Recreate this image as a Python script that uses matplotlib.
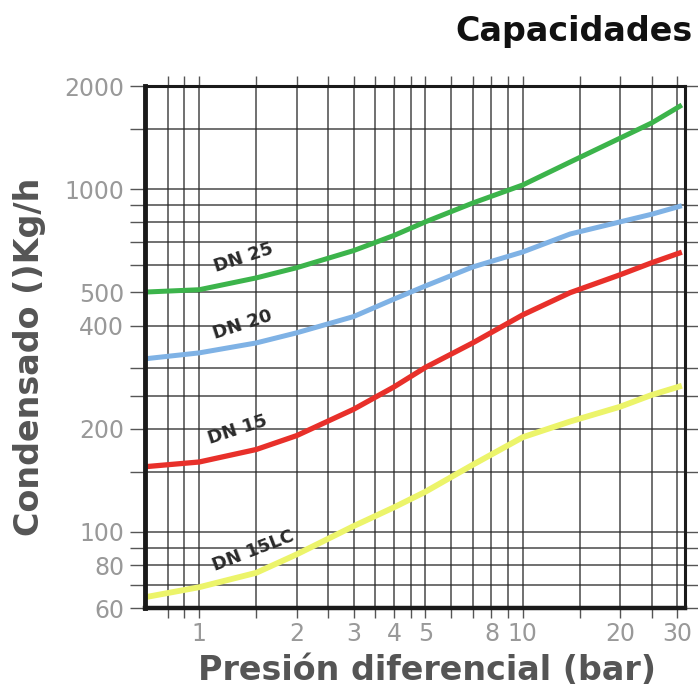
import matplotlib.pyplot as plt
from matplotlib.ticker import FixedLocator, NullFormatter

# datos (presion en bar, condensado en kg/h)
presion = [0.68, 1, 1.5, 2, 3, 4, 5, 7, 10, 14, 20, 25, 31]
dn25 = [501, 509, 551, 590, 662, 733, 803, 911, 1029, 1200, 1410, 1560, 1760]
dn20 = [320, 333, 356, 381, 425, 478, 522, 593, 656, 740, 803, 845, 895]
dn15 = [155, 160, 174, 191, 228, 265, 302, 356, 430, 499, 563, 610, 655]
dn15lc = [64.5, 69, 76, 86, 104, 118, 131, 157, 189, 210, 232, 251, 267]

x_ticks = [1, 2, 3, 4, 5, 8, 10, 20, 30]
x_minor = [0.8, 0.9, 1.5, 2.5, 3.5, 4.5, 6, 7, 9, 15, 25]
y_ticks = [60, 80, 100, 200, 400, 500, 1000, 2000]
y_minor = [70, 90, 150, 250, 300, 600, 700, 800, 900, 1500]

fig = plt.figure(figsize=(6.98, 6.91), dpi=100)
ax = fig.add_axes([145/698, 1-608/691, 540/698, 522/691])

ax.set_xscale('log')
ax.set_yscale('log')
ax.set_xlim(0.68, 31.7)
ax.set_ylim(60, 2000)

# rejilla
ax.xaxis.set_major_locator(FixedLocator(x_ticks))
ax.xaxis.set_minor_locator(FixedLocator(x_minor))
ax.yaxis.set_major_locator(FixedLocator(y_ticks))
ax.yaxis.set_minor_locator(FixedLocator(y_minor))
ax.set_xticklabels([str(v) for v in x_ticks])
ax.set_yticklabels([str(v) for v in y_ticks])
ax.xaxis.set_minor_formatter(NullFormatter())
ax.yaxis.set_minor_formatter(NullFormatter())
ax.grid(True, which='both', color='#2a2a2a', lw=1.1, alpha=0.85)

ax.tick_params(which='both', direction='out', color='#555555', width=1.0,
               labelsize=17, labelcolor='#999999', top=True, right=True)
ax.tick_params(axis='y', which='both', length=11, pad=4)
ax.tick_params(axis='x', which='both', length=7, pad=3)

for lado, ancho in [('left', 3.5), ('bottom', 3.2), ('top', 2.2), ('right', 2.2)]:
    ax.spines[lado].set_linewidth(ancho)
    ax.spines[lado].set_color('#1a1a1a')

# curvas
ax.plot(presion, dn25, color='#3cb44b', lw=3.6, solid_capstyle='butt')
ax.plot(presion, dn20, color='#7fb2e5', lw=3.6, solid_capstyle='butt')
ax.plot(presion, dn15, color='#e8302a', lw=3.8, solid_capstyle='butt')
ax.plot(presion, dn15lc, color='#ecf46a', lw=4.2, solid_capstyle='butt')

estilo = dict(fontsize=13, fontweight='bold', color='#2a2a2a', ha='center', va='center')
ax.text(1.37, 630, 'DN 25', rotation=18, **estilo)
ax.text(1.36, 402, 'DN 20', rotation=18, **estilo)
ax.text(1.31, 199, 'DN 15', rotation=18, **estilo)
ax.text(1.47, 88, 'DN 15LC', rotation=21, **estilo)

fig.text(30/698, 1-357/691, 'Condensado ()Kg/h', rotation=90, fontsize=24,
         fontweight='bold', color='#555555', ha='center', va='center')
fig.text(427/698, 1-670/691, 'Presión diferencial (bar)', fontsize=24,
         fontweight='bold', color='#555555', ha='center', va='center')
fig.text(455/698, 1-32/691, 'Capacidades', fontsize=24,
         fontweight='bold', color='#111111', ha='left', va='center')

fig.savefig('out.png', dpi=100)
